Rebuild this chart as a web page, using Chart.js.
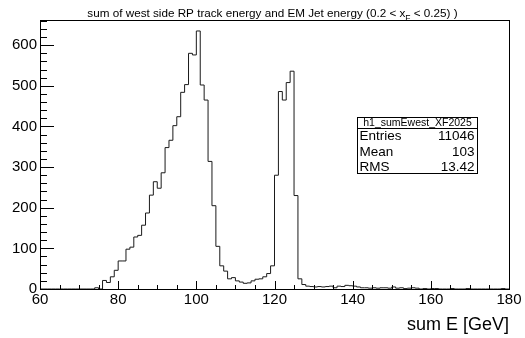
<!DOCTYPE html>
<html><head><meta charset="utf-8">
<script src="https://cdn.jsdelivr.net/npm/chart.js@4/dist/chart.umd.min.js"></script>
<style>html,body{margin:0;padding:0;background:#fff;overflow:hidden}canvas{display:block}</style>
</head><body>
<canvas id="c" width="525" height="338"></canvas>
<script>
// ---- data ----
const binLowEdges = [
  60,61,62,63,64,65,66,67,68,69,
  70,71,72,73,74,75,76,77,78,79,
  80,81,82,83,84,85,86,87,88,89,
  90,91,92,93,94,95,96,97,98,99,
  100,101,102,103,104,105,106,107,108,109,
  110,111,112,113,114,115,116,117,118,119,
  120,121,122,123,124,125,126,127,128,129,
  130,131,132,133,134,135,136,137,138,139,
  140,141,142,143,144,145,146,147,148,149,
  150,151,152,153,154,155,156,157,158,159,
  160,161,162,163,164,165,166,167,168,169,
  170,171,172,173,174,175,176,177,178,179
];
const binCounts = [
  0,0,0,0,0,0,0,0,0,0,
  0,0,0,0,3,0,21,16,30,46,
  69,69,98,103,128,132,157,187,231,264,
  248,286,348,366,402,424,484,503,580,576,
  635,502,465,314,205,105,57,44,25,28,
  20,17,14,15,20,24,25,30,38,57,
  280,486,465,508,536,230,25,11,7,6,
  5,6,5,6,7,3,7,6,9,8,
  7,5,3,3,2,3,2,3,3,2,
  5,2,3,1,2,3,2,0,1,0,
  1,1,0,0,0,1,0,0,0,1,
  0,0,0,0,0,0,0,0,1,0
];
const binWidth = 1;
const xTickLabels = [60, 80, 100, 120, 140, 160, 180];
const yTickLabels = [0, 100, 200, 300, 400, 500, 600];
const titleMain = 'sum of west side RP track energy and EM Jet energy (0.2 < x';
const titleSub = 'F';
const titleEnd = ' < 0.25) )';
const xAxisTitle = 'sum E [GeV]';
const statsName = 'h1_sumEwest_XF2025';
const statsLabels = ['Entries', 'Mean', 'RMS'];
const statsValues = ['11046', '103', '13.42'];

const FONT = '"Liberation Sans", Arial, Helvetica, sans-serif';

// step outline built from the bins
const outline = binLowEdges.map((x, i) => ({x: x, y: binCounts[i]}));
outline.push({x: binLowEdges[binLowEdges.length - 1] + binWidth, y: binCounts[binCounts.length - 1]});

const rootDecor = {
  id: 'rootDecor',
  afterDraw(chart) {
    const ctx = chart.ctx, a = chart.chartArea;
    const xs = chart.scales.x, ys = chart.scales.y;
    ctx.save();
    // frame
    ctx.strokeStyle = '#000';
    ctx.lineWidth = 1;
    ctx.strokeRect(a.left + 0.5, a.top + 0.5, a.right - a.left, a.bottom - a.top);
    // x ticks (inside, pointing up)
    ctx.beginPath();
    for (let v = xs.min; v <= xs.max + 1e-9; v += 5) {
      const px = Math.round(xs.getPixelForValue(v)) + 0.5;
      const len = (v % 20 === 0) ? 8 : 4;
      ctx.moveTo(px, a.bottom);
      ctx.lineTo(px, a.bottom - len);
    }
    // y ticks (inside, pointing right)
    for (let v = 0; v <= ys.max; v += 20) {
      const py = Math.round(ys.getPixelForValue(v)) + 0.5;
      const len = (v % 100 === 0) ? 14 : 7;
      ctx.moveTo(a.left, py);
      ctx.lineTo(a.left + len, py);
    }
    ctx.stroke();

    // title with subscript
    ctx.fillStyle = '#000';
    ctx.textBaseline = 'alphabetic';
    const fMain = '11.7px ' + FONT, fSub = '8.5px ' + FONT;
    ctx.font = fMain;
    const w1 = ctx.measureText(titleMain).width;
    const w3 = ctx.measureText(titleEnd).width;
    ctx.font = fSub;
    const w2 = ctx.measureText(titleSub).width;
    const total = w1 + w2 + w3;
    let tx = 272.5 - total / 2;
    const ty = 17;
    ctx.font = fMain; ctx.textAlign = 'left';
    ctx.fillText(titleMain, tx, ty); tx += w1;
    ctx.font = fSub; ctx.fillText(titleSub, tx, ty + 4); tx += w2;
    ctx.font = fMain; ctx.fillText(titleEnd, tx, ty);

    // stats box
    const bx = 357.5, by = 117.5, bw = 120, bh = 56;
    ctx.fillStyle = '#fff';
    ctx.fillRect(bx, by, bw, bh);
    ctx.strokeStyle = '#000';
    ctx.strokeRect(bx, by, bw, bh);
    ctx.beginPath();
    ctx.moveTo(bx, 128.5); ctx.lineTo(bx + bw, 128.5);
    ctx.stroke();
    ctx.fillStyle = '#000';
    ctx.textBaseline = 'middle';
    ctx.textAlign = 'center';
    ctx.font = '10.5px ' + FONT;
    ctx.fillText(statsName, bx + bw / 2, 123.5);
    ctx.font = '13.5px ' + FONT;
    const rowY = [136.5, 152, 167];
    statsLabels.forEach((lab, i) => {
      ctx.textAlign = 'left';
      ctx.fillText(lab, bx + 2, rowY[i]);
      ctx.textAlign = 'right';
      ctx.fillText(statsValues[i], bx + bw - 3, rowY[i]);
    });
    ctx.restore();
  }
};

new Chart(document.getElementById('c'), {
  type: 'line',
  data: {
    datasets: [{
      data: outline,
      stepped: 'before',
      borderColor: '#1a1a1a',
      borderWidth: 1,
      pointRadius: 0,
      fill: false,
      tension: 0
    }]
  },
  options: {
    responsive: false,
    animation: false,
    devicePixelRatio: 1,
    layout: {padding: {top: 20, right: 16, left: 0, bottom: 0}},
    plugins: {legend: {display: false}, tooltip: {enabled: false}, title: {display: false}},
    scales: {
      x: {
        type: 'linear', min: 60, max: 180,
        afterFit(s) { s.height = 49; },
        afterBuildTicks(s) { s.ticks = xTickLabels.map(v => ({value: v})); },
        grid: {display: false, drawTicks: false},
        border: {display: false},
        ticks: {color: '#000', font: {family: FONT, size: 15}, padding: 2, maxRotation: 0, autoSkip: false},
        title: {display: true, text: xAxisTitle, align: 'end', color: '#000',
                font: {family: FONT, size: 18}, padding: {top: 0, bottom: 2}}
      },
      y: {
        type: 'linear', min: 0, max: 662,
        afterFit(s) { s.width = 40; },
        afterBuildTicks(s) { s.ticks = yTickLabels.map(v => ({value: v})); },
        grid: {display: false, drawTicks: false},
        border: {display: false},
        ticks: {color: '#000', font: {family: FONT, size: 15}, padding: 3, autoSkip: false}
      }
    }
  },
  plugins: [rootDecor]
});
</script>
</body></html>
